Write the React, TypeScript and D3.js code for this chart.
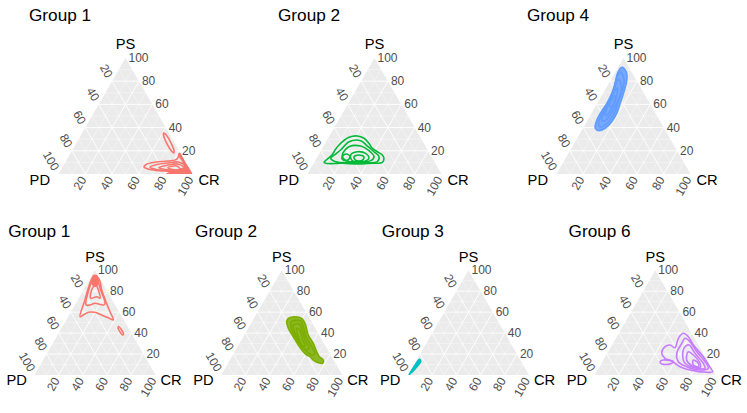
import React from "react";
import * as d3 from "d3";

type Pt = [number, number]; // [PS, CR] in percent, PD = 100 - PS - CR

// ---------- axis data ----------
const tickValues = [20, 40, 60, 80, 100];
const majorBreaks = [20, 40, 60, 80];
const minorBreaks = [10, 30, 50, 70, 90];
const axisTop = "PS";
const axisLeft = "PD";
const axisRight = "CR";

// ---------- panel titles / colours ----------
const topTitles = ["Group 1", "Group 2", "Group 4"];
const topColors = ["#F8766D", "#00BA38", "#619CFF"];
const bottomTitles = ["Group 1", "Group 2", "Group 3", "Group 6"];
const bottomColors = ["#F8766D", "#7CAE00", "#00BFC4", "#C77CFF"];

// ---------- contour rings, [PS, CR] ----------
// top row, Group 1
const t1Ring1: Pt[] = [[18.1,81.6],[12.9,82.0],[11.2,76.1],[10.3,67.6],[8.2,61.2],[6.0,60.8],[3.9,66.3],[2.6,78.2],[1.3,90.0],[0.4,98.7],[7.8,91.3],[14.7,84.8]];
const t1Ring2: Pt[] = [[10.3,84.0],[9.5,77.0],[8.2,69.4],[6.0,65.3],[3.9,70.8],[3.0,81.7],[1.7,93.6],[6.0,92.9]];
const t1Ring3: Pt[] = [[8.6,84.9],[7.3,76.6],[5.6,72.2],[3.9,77.5],[3.0,87.7],[4.3,93.0]];
const t1Ring4: Pt[] = [[6.9,85.0],[5.6,78.9],[3.9,82.8],[3.9,88.7]];
const t1Ellipse: Pt[] = [[35.3,60.7],[32.8,64.6],[26.7,70.6],[20.7,75.8],[18.1,77.1],[19.8,74.4],[25.9,68.0],[31.9,62.8]];
const t1Core: Pt[] = [[0,80.0],[2.0,82.5],[4.0,87.0],[6.0,91.0],[7.0,93.0],[0,100]];
const t1Strip: Pt[] = [[18.0,81.6],[10.0,89.6],[5.0,94.6],[5.0,92.0],[10.0,87.6],[17.0,80.6]];

// top row, Group 2
const t2Ring1: Pt[] = [[10.1,7.3],[16.4,10.1],[20.7,10.2],[25.0,11.0],[31.6,15.2],[32.8,20.8],[30.8,26.8],[26.5,32.6],[22.2,37.3],[19.2,42.5],[16.4,47.6],[13.5,50.3],[10.1,50.8],[9.2,43.8],[8.6,34.1],[9.2,21.4],[9.2,9.0]];
const t2Ring2: Pt[] = [[20.7,14.4],[27.8,17.1],[28.7,25.4],[24.1,32.6],[19.2,40.0],[14.9,45.9],[10.6,46.8],[9.7,38.6],[9.7,26.1],[10.6,15.7],[13.5,10.6],[17.2,12.4]];
const t2Ring3: Pt[] = [[16.4,17.8],[23.5,19.2],[24.1,27.7],[20.1,35.8],[14.9,42.2],[11.5,41.4],[10.6,30.7],[11.5,22.8]];
const t2Ring4: Pt[] = [[16.4,24.0],[19.2,27.6],[17.8,34.5],[13.5,39.1],[10.6,35.6],[11.5,27.7]];
const t2Ring5: Pt[] = [[14.7,27.3],[16.4,30.2],[14.7,34.8],[11.6,34.9],[11.6,30.4]];
const t2Ring6: Pt[] = [[14.7,18.4],[17.2,20.1],[15.5,24.0],[12.1,24.2],[12.1,20.4]];

// top row, Group 4
const t4Ring1: Pt[] = [[92.0,2.7],[88.2,7.9],[81.0,12.0],[69.6,15.2],[60.9,17.1],[52.3,18.8],[45.1,18.7],[39.4,16.6],[37.3,12.7],[39.4,9.2],[45.1,7.1],[52.3,6.5],[60.9,7.1],[69.6,6.5],[78.2,4.7],[86.8,2.1]];
const t4Ring2: Pt[] = [[87.9,3.8],[81.0,9.9],[70.7,13.2],[60.3,15.4],[50.9,17.1],[44.0,16.1],[40.5,12.6],[44.0,9.3],[52.6,8.0],[62.1,7.8],[72.4,6.3],[82.8,3.4]];
const t4Ring3: Pt[] = [[81.0,6.5],[72.4,12.3],[61.2,14.2],[52.6,14.7],[45.7,13.0],[46.6,10.3],[55.2,9.0],[63.8,8.4],[73.3,6.6],[81.0,5.0]];
const t4Ring4: Pt[] = [[74.1,8.5],[63.8,12.1],[53.4,12.9],[50.0,11.6],[58.6,8.8],[68.1,7.7]];
const t4Ring5: Pt[] = [[67.2,10.4],[57.8,12.1],[58.6,10.3],[66.4,9.3]];

// bottom row, Group 1
const b1Ring1: Pt[] = [[93.8,1.7],[82.7,3.1],[71.6,5.9],[55.6,9.8],[57.3,11.7],[59.8,14.6],[59.8,20.1],[57.9,25.2],[54.7,33.6],[52.5,38.9],[60.4,32.2],[69.9,24.1],[81.1,15.0],[92.3,6.9]];
const b1Ring2: Pt[] = [[90.6,3.3],[76.3,5.5],[66.8,9.2],[66.8,12.5],[68.4,15.8],[66.8,23.5],[68.4,24.1],[82.7,12.8],[90.6,6.6]];
const b1Ring3: Pt[] = [[81.1,6.7],[73.2,9.8],[74.7,14.1],[73.2,17.5],[81.1,12.2],[85.9,7.6]];
const b1Core: Pt[] = [[95.4,0.6],[95.4,3.9],[87.8,9.4],[84.0,8.8],[85.9,4.6]];
const b1Ellipse: Pt[] = [[46.3,46.3],[43.9,49.5],[39.1,54.0],[38.2,53.6],[41.0,50.2],[44.8,46.6]];

// bottom row, Group 2
const b2Ring1: Pt[] = [[54.1,28.4],[55.6,33.2],[54.1,39.4],[49.3,44.6],[38.2,52.8],[30.2,61.0],[22.2,67.8],[17.5,72.3],[14.3,77.2],[11.2,78.2],[11.7,74.4],[14.3,68.9],[17.5,64.6],[19.1,61.1],[22.2,56.7],[28.6,49.4],[36.5,41.3],[44.6,33.1],[50.9,28.6]];
const b2Ring2: Pt[] = [[50.9,32.8],[51.8,39.2],[46.1,44.8],[36.5,51.8],[27.0,61.3],[20.7,67.1],[19.1,65.2],[23.9,57.3],[31.8,47.8],[41.3,38.4],[47.7,33.6]];
const b2Ring3: Pt[] = [[47.7,35.7],[48.7,40.2],[42.9,45.5],[33.4,52.5],[25.5,60.0],[24.5,57.0],[31.8,48.6],[39.8,41.1]];
const b2Ring4: Pt[] = [[44.6,40.1],[42.9,43.6],[33.4,50.6],[27.7,55.4],[28.6,52.2],[36.5,45.4]];

// bottom row, Group 3
const b3Blob: Pt[] = [[0.5,0.5],[4,0.5],[9,1],[14,1.5],[15,2],[13,4],[8,3.5],[4,2.5],[1,1.2]];

// bottom row, Group 6
const b6Ring1: Pt[] = [[20.7,45.0],[27.0,44.6],[28.6,47.9],[26.0,53.3],[35.0,51.6],[39.8,53.3],[36.5,59.1],[28.6,67.2],[17.5,81.0],[8.0,91.0],[3.1,96.0],[2.6,91.2],[4.8,76.3],[7.9,66.5],[13.4,56.9],[15.9,50.1]];
const b6Loop: Pt[] = [[12.7,47.6],[14.3,49.5],[12.7,58.6],[10.5,56.9],[10.5,50.1]];
const b6Ring2: Pt[] = [[30.2,56.8],[35.0,57.1],[31.8,62.8],[22.2,73.2],[12.7,84.8],[6.4,90.6],[4.8,84.6],[7.9,72.0],[12.7,62.7],[20.7,57.4]];
const b6Ring3: Pt[] = [[27.0,61.1],[28.6,63.8],[20.7,72.5],[11.2,84.1],[6.4,87.9],[6.4,81.1],[11.2,69.0],[19.1,63.1]];
const b6Ring4: Pt[] = [[22.2,66.2],[19.1,71.9],[11.2,81.4],[7.0,83.5],[8.9,75.7],[14.3,68.8]];
const b6Ring5: Pt[] = [[14.3,74.3],[11.2,80.0],[7.9,81.6],[9.5,76.7]];

type PanelSpec = {
  title: string;
  color: string;
  lines: Pt[][];
  fills: Pt[][];
  shade?: Pt[];
  shadeOpacity?: number;
};

const topPanels: PanelSpec[] = [
  { title: topTitles[0], color: topColors[0], lines: [t1Ring1, t1Ring2, t1Ring3, t1Ring4, t1Ellipse], fills: [t1Core, t1Strip] },
  { title: topTitles[1], color: topColors[1], lines: [t2Ring1, t2Ring2, t2Ring3, t2Ring4, t2Ring5, t2Ring6], fills: [] },
  { title: topTitles[2], color: topColors[2], lines: [t4Ring1, t4Ring2, t4Ring3, t4Ring4, t4Ring5], fills: [], shade: t4Ring1, shadeOpacity: 0.85 },
];
const bottomPanels: PanelSpec[] = [
  { title: bottomTitles[0], color: bottomColors[0], lines: [b1Ring1, b1Ring2, b1Ring3, b1Ellipse], fills: [b1Core] },
  { title: bottomTitles[1], color: bottomColors[1], lines: [b2Ring1, b2Ring2, b2Ring3, b2Ring4], fills: [], shade: b2Ring1, shadeOpacity: 0.85 },
  { title: bottomTitles[2], color: bottomColors[2], lines: [b3Blob], fills: [b3Blob] },
  { title: bottomTitles[3], color: bottomColors[3], lines: [b6Ring1, b6Loop, b6Ring2, b6Ring3, b6Ring4, b6Ring5], fills: [] },
];

const FONT = "'Liberation Sans', Arial, Helvetica, sans-serif";
const S3 = Math.sqrt(3) / 2;

type Layout = {
  x0: number; yb: number; s: number;
  titleX: number; titleY: number;
  psGap: number; cornerGapL: number; cornerGapR: number; cornerDy: number;
};

function TernaryPanel({ spec, L, id }: { spec: PanelSpec; L: Layout; id: string }) {
  const { x0, yb, s } = L;
  const h = s * S3;
  const xs = d3.scaleLinear().domain([0, 100]).range([x0, x0 + s]);
  const ys = d3.scaleLinear().domain([0, 100]).range([yb, yb - h]);
  const px = (p: Pt) => xs(p[1] + p[0] / 2);
  const py = (p: Pt) => ys(p[0]);
  const smooth = d3.line<Pt>().x(px).y(py).curve(d3.curveCatmullRomClosed.alpha(0.5));
  const poly = d3.line<Pt>().x(px).y(py);
  const tri: Pt[] = [[100, 0], [0, 0], [0, 100]];

  const gridSeg = (v: number): Pt[][] => [
    [[v, 0], [v, 100 - v]],
    [[0, v], [100 - v, v]],
    [[0, 100 - v], [100 - v, 0]],
  ];

  const apex: [number, number] = [px([100, 0]), py([100, 0])];
  const c30 = 0.5, s60 = S3;

  return (
    <g>
      <defs>
        <clipPath id={id}>
          <path d={poly(tri) + "Z"} />
        </clipPath>
      </defs>
      <path d={poly(tri) + "Z"} fill="#EBEBEB" />
      {minorBreaks.flatMap((v) =>
        gridSeg(v).map((seg, i) => (
          <path key={`mn${v}-${i}`} d={poly(seg) || ""} stroke="#FFFFFF" strokeWidth={0.45} opacity={0.8} fill="none" />
        ))
      )}
      {majorBreaks.flatMap((v) =>
        gridSeg(v).map((seg, i) => (
          <path key={`mj${v}-${i}`} d={poly(seg) || ""} stroke="#FFFFFF" strokeWidth={0.9} fill="none" />
        ))
      )}
      <g clipPath={`url(#${id})`}>
        {spec.shade && (
          <path d={smooth(spec.shade) || ""} fill={spec.color} fillOpacity={spec.shadeOpacity} stroke="none" />
        )}
        {spec.fills.map((f, i) => (
          <path key={`f${i}`} d={smooth(f) || ""} fill={spec.color} stroke="none" />
        ))}
        {spec.lines.map((r, i) => (
          <path key={`l${i}`} d={smooth(r) || ""} fill="none" stroke={spec.color} strokeWidth={1.6} strokeLinejoin="round" />
        ))}
      </g>
      {tickValues.map((v) => {
        const p: Pt = [v, 100 - v];
        return (
          <text key={`ps${v}`} x={px(p) + 3} y={py(p)} fontSize={12} fill="#4D4D4D" fontFamily={FONT} dominantBaseline="central" textAnchor="start">
            {v}
          </text>
        );
      })}
      {tickValues.map((v) => {
        const p: Pt = [100 - v, 0];
        const x = px(p) - 5 * c30;
        const y = py(p) - 5 * s60;
        return (
          <text key={`pd${v}`} x={x} y={y} fontSize={12} fill="#4D4D4D" fontFamily={FONT} dominantBaseline="central" textAnchor="end" transform={`rotate(60 ${x} ${y})`}>
            {v}
          </text>
        );
      })}
      {tickValues.map((v) => {
        const p: Pt = [0, v];
        const x = px(p) - 4 * c30;
        const y = py(p) + 4 * s60;
        return (
          <text key={`cr${v}`} x={x} y={y} fontSize={12} fill="#4D4D4D" fontFamily={FONT} dominantBaseline="central" textAnchor="end" transform={`rotate(-60 ${x} ${y})`}>
            {v}
          </text>
        );
      })}
      <text x={apex[0]} y={apex[1] - L.psGap} fontSize={14.7} fontFamily={FONT} fill="#000" textAnchor="middle">{axisTop}</text>
      <text x={x0 - L.cornerGapL} y={yb + L.cornerDy} fontSize={14.7} fontFamily={FONT} fill="#000" textAnchor="end">{axisLeft}</text>
      <text x={x0 + s + L.cornerGapR} y={yb + L.cornerDy} fontSize={14.7} fontFamily={FONT} fill="#000" textAnchor="start">{axisRight}</text>
      <text x={L.titleX} y={L.titleY} fontSize={17.2} fontFamily={FONT} fill="#000">{spec.title}</text>
    </g>
  );
}

export default function App() {
  const W = 747, H = 413;
  const topW = W / 3, botW = W / 4;
  return (
    <svg width={W} height={H} style={{ position: "absolute", left: 0, top: 0, background: "#fff" }}>
      <rect width={W} height={H} fill="#fff" />
      {topPanels.map((p, i) => (
        <TernaryPanel key={`t${i}`} id={`clipT${i}`} spec={p}
          L={{ x0: i * topW + 58.5, yb: 174, s: 134, titleX: i * topW + 29, titleY: 20.7, psGap: 9, cornerGapL: 8.5, cornerGapR: 6, cornerDy: 11 }} />
      ))}
      {bottomPanels.map((p, i) => (
        <TernaryPanel key={`b${i}`} id={`clipB${i}`} spec={p}
          L={{ x0: i * botW + 34.5, yb: 375, s: 121, titleX: i * botW + 8.3, titleY: 236.7, psGap: 8, cornerGapL: 7.6, cornerGapR: 5, cornerDy: 10 }} />
      ))}
    </svg>
  );
}
